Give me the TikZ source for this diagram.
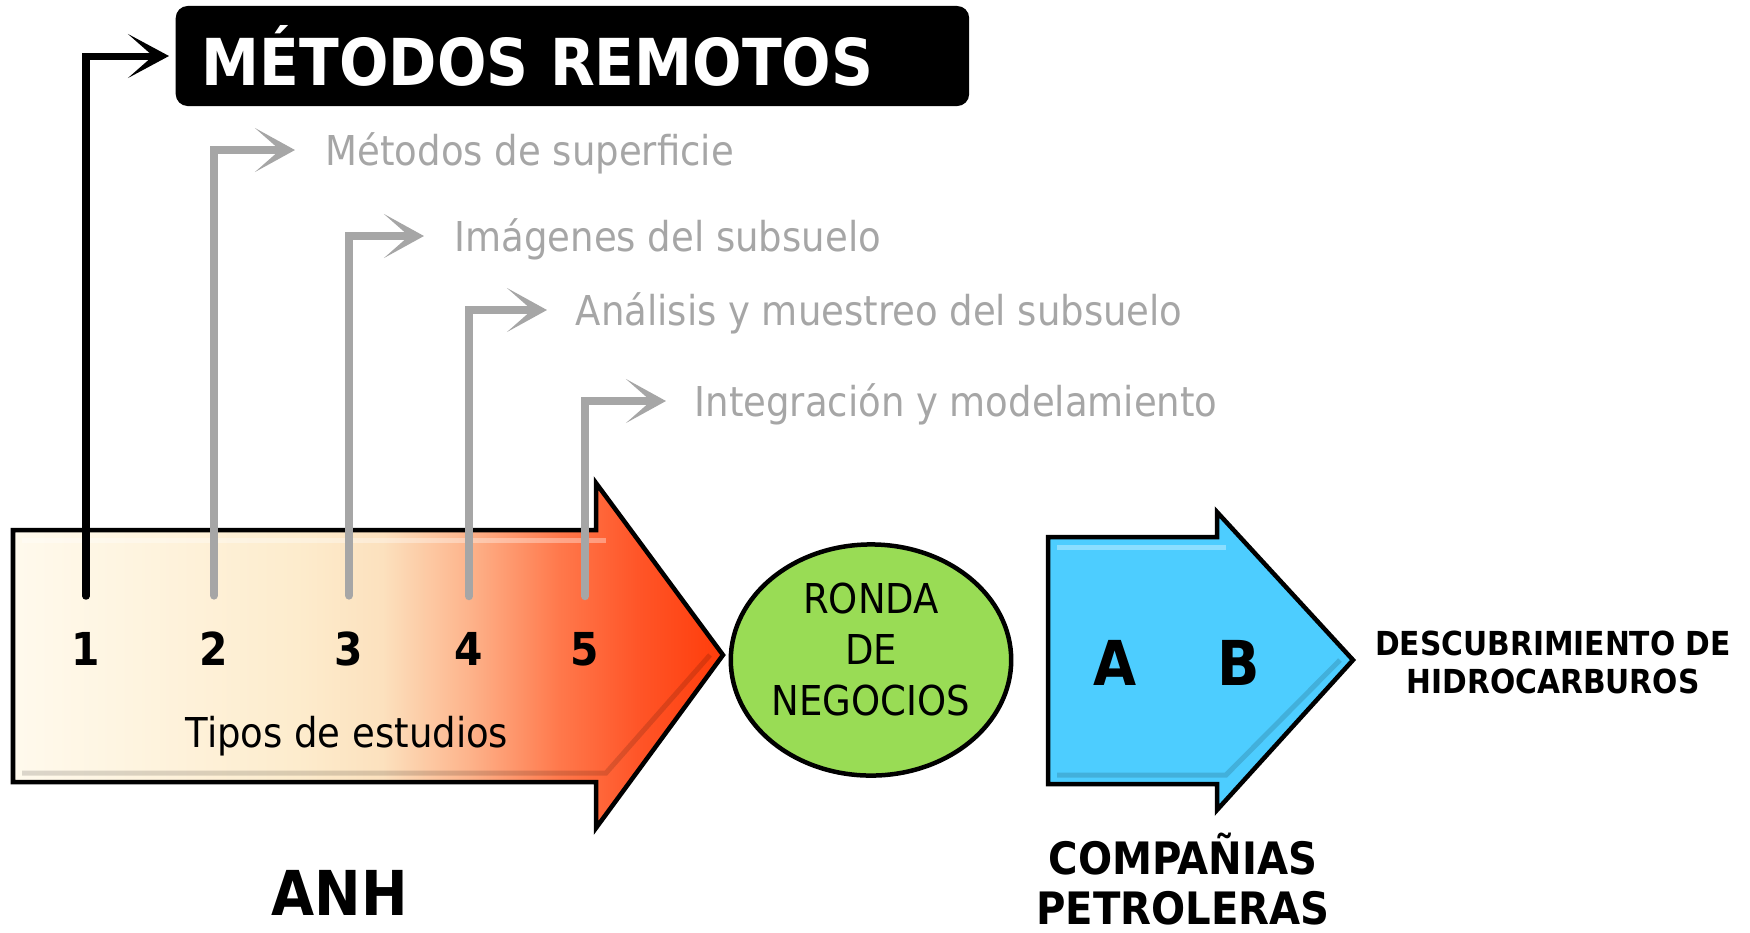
\documentclass[tikz,border=0pt]{standalone}
\usepackage{fontspec}
\setmainfont{DejaVu Sans Condensed}
\usepackage{xcolor}
\usepackage{tikz}
\usetikzlibrary{arrows.meta,shapes.geometric}

\definecolor{guidegray}{RGB}{166,166,166}
\definecolor{rondagreen}{RGB}{153,220,85}
\definecolor{oilblue}{RGB}{77,205,255}
\definecolor{anhA}{RGB}{255,250,237}
\definecolor{anhB}{RGB}{253,236,205}
\definecolor{anhC}{RGB}{252,225,190}
\definecolor{anhD}{RGB}{253,180,140}
\definecolor{anhE}{RGB}{255,120,75}
\definecolor{anhF}{RGB}{255,85,40}
\definecolor{anhG}{RGB}{255,60,10}
\pgfdeclarehorizontalshading{anhshading}{100bp}{color(0bp)=(anhA); color(25bp)=(anhA); color(45bp)=(anhB); color(51bp)=(anhC); color(57bp)=(anhD); color(63.5bp)=(anhE); color(69bp)=(anhF); color(75bp)=(anhG); color(100bp)=(anhG)}

\begin{document}
\begin{tikzpicture}[x=0.01cm, y=-0.01cm]
    % Define styles
    \tikzstyle{titlebox} = [rectangle, anchor=west, rounded corners=0.12cm, fill=black, text=white, font=\bfseries\fontsize{18.4}{22}\selectfont, minimum height=1.0cm, text width=7.41cm, inner xsep=0.26cm, align=left]
    \tikzstyle{num} = [anchor=base, inner sep=0pt, font=\bfseries\fontsize{12.9}{15}\selectfont]
    \tikzstyle{item} = [anchor=west, inner sep=0pt, text height=0.30cm, text depth=0pt, text=guidegray, font=\fontsize{11.7}{14}\selectfont]
    \tikzstyle{mainguide} = [draw=black, line width=0.07cm, line cap=round, -{Stealth[length=0.41cm, width=0.44cm, inset=0.25cm]}]
    \tikzstyle{guide} = [draw=guidegray, line width=0.08cm, line cap=round, -{Stealth[length=0.40cm, width=0.44cm, inset=0.25cm]}]
    \tikzstyle{bigarrow} = [draw=black, line width=0.045cm, line join=miter]
    \tikzstyle{bevellight} = [draw=white, opacity=0.35, line width=0.05cm]
    \tikzstyle{beveldark} = [draw=black, opacity=0.14, line width=0.05cm]
    \tikzstyle{ronda} = [ellipse, draw=black, line width=0.045cm, fill=rondagreen, minimum width=2.76cm, minimum height=2.31cm, inner sep=0pt, text depth=0.22cm, align=center, font=\fontsize{11.7}{14.5}\selectfont]
    \tikzstyle{letter} = [anchor=base, inner sep=0pt, font=\bfseries\fontsize{17.6}{20}\selectfont]
    \tikzstyle{actor} = [inner sep=0pt, align=center, font=\bfseries\fontsize{12.7}{14.2}\selectfont]

    \useasboundingbox (0,0) rectangle (1750,932);

    % ANH arrow
    \path[bigarrow, shade, shading=anhshading] (13,530) -- (596,530) -- (596,483) -- (723,655) -- (596,828) -- (596,782) -- (13,782) -- cycle;
    \draw[bevellight] (22,540) -- (606,540);
    \draw[beveldark] (22,773) -- (606,773) -- (710,655);
    \node[inner sep=0pt, anchor=base, font=\fontsize{11.7}{14}\selectfont] (tipos) at (347,747) {Tipos de estudios};
    \node[letter] (anh) at (340,915) {ANH};

    % Study types
    \node[num] (n1) at (86,665) {1};
    \node[num] (n2) at (214,665) {2};
    \node[num] (n3) at (349,665) {3};
    \node[num] (n4) at (469,665) {4};
    \node[num] (n5) at (585,665) {5};

    % Remote methods
    \node[titlebox] (title) at (175,56) {MÉTODOS REMOTOS};
    \node[item] (sup) at (325,150) {Métodos de superficie};
    \node[item] (img) at (454,236) {Imágenes del subsuelo};
    \node[item] (ana) at (575,310) {Análisis y muestreo del subsuelo};
    \node[item] (integ) at (694,401) {Integración y modelamiento};

    % Guide arrows
    \draw[mainguide, shorten <=0.35cm, shorten >=0.06cm] (n1.north) |- (title.west);
    \draw[guide, shorten <=0.35cm, shorten >=0.30cm] (n2.north) |- (sup.west);
    \draw[guide, shorten <=0.35cm, shorten >=0.30cm] (n3.north) |- (img.west);
    \draw[guide, shorten <=0.35cm, shorten >=0.28cm] (n4.north) |- (ana.west);
    \draw[guide, shorten <=0.35cm, shorten >=0.28cm] (n5.north) |- (integ.west);

    % Bidding round
    \node[ronda] (ronda) at (871,660) {RONDA\\DE\\NEGOCIOS};

    % Oil companies
    \path[bigarrow, fill=oilblue] (1048,537) -- (1217,537) -- (1217,512) -- (1353,660) -- (1217,810) -- (1217,784) -- (1048,784) -- cycle;
    \draw[bevellight] (1057,547) -- (1226,547);
    \draw[beveldark] (1057,775) -- (1226,775) -- (1340,660);
    \node[letter] (la) at (1115,685) {A};
    \node[letter] (lb) at (1239,685) {B};
    \node[actor] (cias) at (1183,879) {COMPAÑIAS\\PETROLERAS};
    \node[actor, font=\bfseries\fontsize{9.4}{10.8}\selectfont] (desc) at (1553,662) {DESCUBRIMIENTO DE\\HIDROCARBUROS};
\end{tikzpicture}
\end{document}
